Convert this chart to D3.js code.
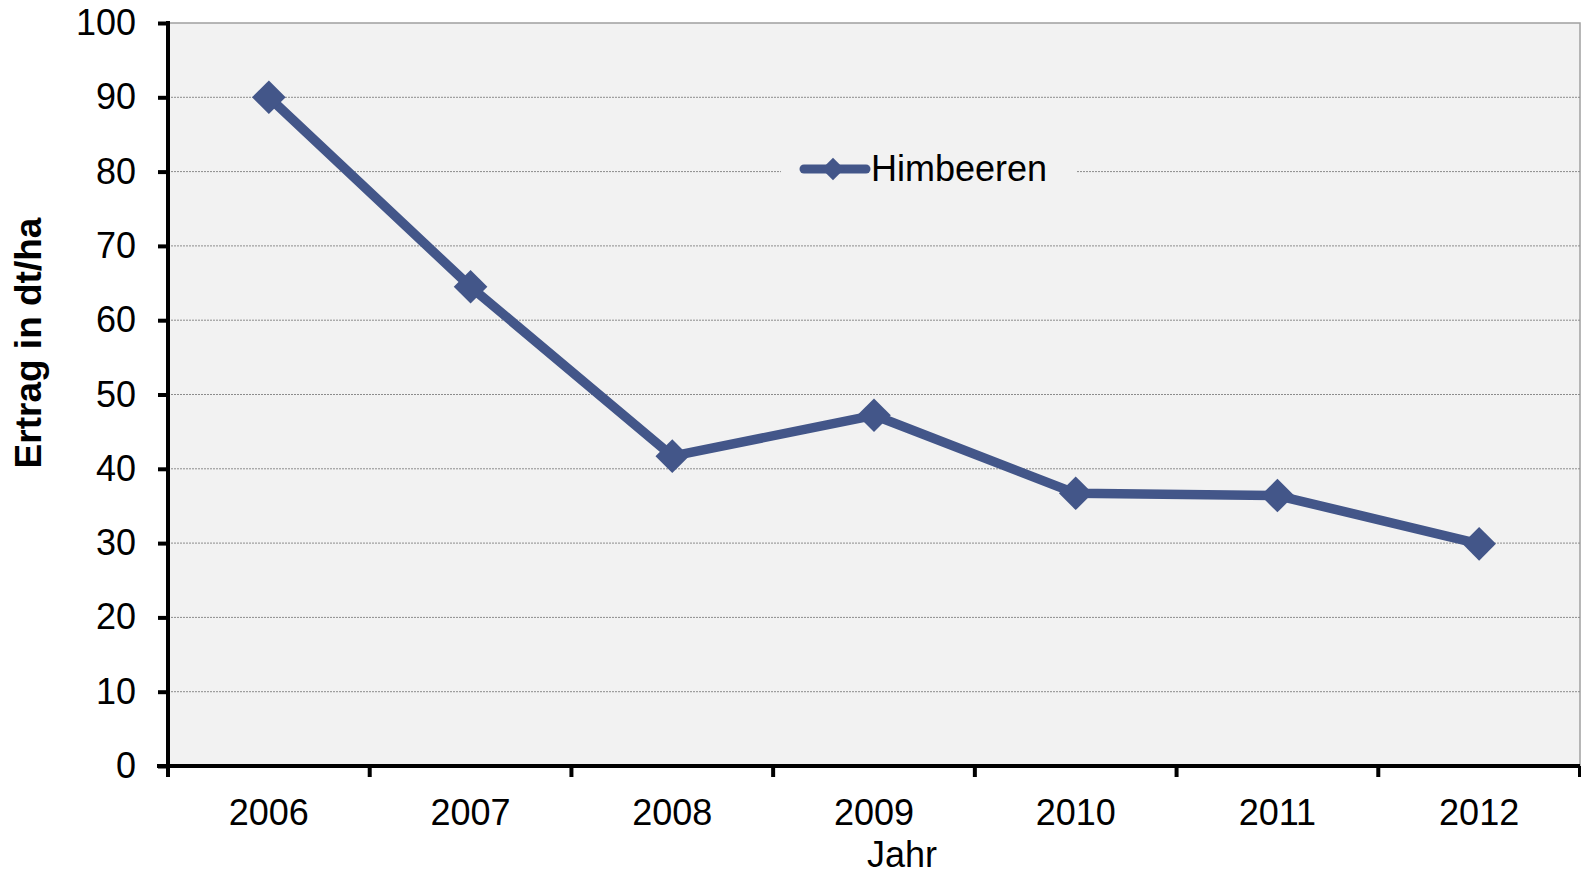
<!DOCTYPE html>
<html>
<head>
<meta charset="utf-8">
<script src="https://cdn.jsdelivr.net/npm/d3@7"></script>
<style>
  body { margin: 0; background: #fff; }
  text { font-family: "Liberation Sans", Arial, sans-serif; fill: #000; }
</style>
</head>
<body>
<svg id="chart" width="1581" height="876"></svg>
<script>
const years = ['2006', '2007', '2008', '2009', '2010', '2011', '2012'];
const ertrag = [90, 64.5, 41.7, 47.2, 36.7, 36.4, 29.9];
const yTicks = [0, 10, 20, 30, 40, 50, 60, 70, 80, 90, 100];
const seriesName = 'Himbeeren';

const svg = d3.select('#chart');
const plotLeft = 168, plotRight = 1580, plotTop = 23, plotBottom = 766;
const lineColor = '#435689';
const fontSize = 36;

const x = d3.scaleBand().domain(years).range([plotLeft, plotRight]);
const y = d3.scaleLinear().domain([0, 100]).range([plotBottom, plotTop]);

// plot area
svg.append('rect')
	.attr('x', plotLeft).attr('y', plotTop)
	.attr('width', plotRight - plotLeft).attr('height', plotBottom - plotTop)
	.attr('fill', '#f2f2f2')
	.attr('stroke', '#a0a0a0').attr('stroke-width', 1.5);

// grid
svg.append('g').selectAll('line')
	.data(yTicks.filter(d => d > 0 && d < 100))
	.join('line')
	.attr('x1', plotLeft).attr('x2', plotRight)
	.attr('y1', d => y(d)).attr('y2', d => y(d))
	.attr('stroke', '#8c8c8c').attr('stroke-width', 1)
	.attr('stroke-dasharray', '2,1');

// legend (drawn over the grid)
const lg = svg.append('g');
lg.append('rect').attr('x', 781).attr('y', 146).attr('width', 296).attr('height', 46).attr('fill', '#f2f2f2');
lg.append('line').attr('x1', 804).attr('x2', 866).attr('y1', 169).attr('y2', 169)
	.attr('stroke', lineColor).attr('stroke-width', 9).attr('stroke-linecap', 'round');
lg.append('path').attr('d', d3.symbol(d3.symbolDiamond2, 320)())
	.attr('transform', 'translate(833,169)').attr('fill', lineColor);
lg.append('text').attr('x', 871).attr('y', 181).attr('font-size', fontSize).text(seriesName);

// y axis
const yAxis = svg.append('g')
	.attr('transform', `translate(${plotLeft},0)`)
	.call(d3.axisLeft(y).tickValues(yTicks).tickSize(10).tickPadding(22));
yAxis.select('.domain').attr('stroke', '#000').attr('stroke-width', 4)
	.attr('d', `M0,${plotTop - 2}V${plotBottom + 2}`);
yAxis.selectAll('.tick line').attr('stroke', '#000').attr('stroke-width', 4);
yAxis.selectAll('.tick text').attr('font-size', fontSize).attr('font-family', '"Liberation Sans", Arial, sans-serif');

// x axis
const xTickPos = years.map(d => x(d)).concat([plotRight]);
const xAxis = svg.append('g');
xAxis.append('line').attr('x1', plotLeft - 11).attr('x2', plotRight)
	.attr('y1', plotBottom).attr('y2', plotBottom)
	.attr('stroke', '#000').attr('stroke-width', 4);
xAxis.selectAll('.xt').data(xTickPos).join('line')
	.attr('x1', d => d).attr('x2', d => d)
	.attr('y1', plotBottom).attr('y2', plotBottom + 11)
	.attr('stroke', '#000').attr('stroke-width', 4);
xAxis.selectAll('text').data(years).join('text')
	.attr('x', d => x(d) + x.bandwidth() / 2).attr('y', 825)
	.attr('text-anchor', 'middle').attr('font-size', fontSize)
	.text(d => d);

// axis titles
svg.append('text').attr('x', 902).attr('y', 867)
	.attr('text-anchor', 'middle').attr('font-size', fontSize).text('Jahr');
svg.append('text')
	.attr('transform', 'translate(41,343) rotate(-90)')
	.attr('text-anchor', 'middle').attr('font-size', 37).attr('font-weight', 'bold')
	.text('Ertrag in dt/ha');

// series
const cx = d => x(d) + x.bandwidth() / 2;
svg.append('path')
	.datum(ertrag)
	.attr('d', d3.line().x((d, i) => cx(years[i])).y(d => y(d)))
	.attr('fill', 'none').attr('stroke', lineColor).attr('stroke-width', 9.5)
	.attr('stroke-linejoin', 'round');
svg.append('g').selectAll('path')
	.data(ertrag)
	.join('path')
	.attr('d', d3.symbol(d3.symbolDiamond2, 720)())
	.attr('transform', (d, i) => `translate(${cx(years[i])},${y(d)})`)
	.attr('fill', lineColor);
</script>
</body>
</html>
